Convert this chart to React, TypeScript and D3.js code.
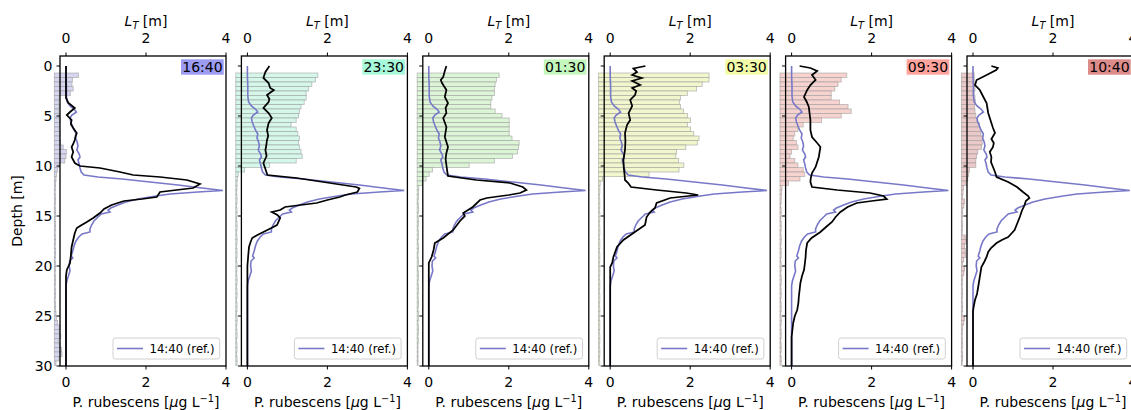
import React from 'react'
import * as d3 from 'd3'

const WIDTH = 1131
const HEIGHT = 410
const TOP = 56
const BOTTOM = 366
const FIRST_LEFT = 60
const PANEL_W = 166
const PANEL_STEP = 181.4
const BAR_BASE = -0.29
const BIN_H = 0.45
const REF_COLOR = '#7878c8'
const FONT = 14
const SMALL = 11.67

const times = ['16:40', '23:30', '01:30', '03:30', '09:30', '10:40']
const timeColors = ['#9c9cf2', '#a8f8da', '#c4f7bd', '#f2fca8', '#ffa39c', '#dd8c8c']
const barFills = ['#d6d6f0', '#d4f7ea', '#ddf5d7', '#f1f6cc', '#f7d3cf', '#ecc9c9']

const xTicks = [0, 2, 4]
const depthTicks = [0, 5, 10, 15, 20, 25, 30]

// top of each L_T depth bin [m]
const ltTops = [
  0.7, 1.15, 1.6, 2.05, 2.5, 2.95, 3.4, 3.85, 4.3, 4.75, 5.2, 5.65, 6.1, 6.55, 7.0, 7.45,
  7.9, 8.35, 8.8, 9.25, 9.7, 10.15, 10.6, 11.05, 11.5, 11.95, 12.4, 12.85, 13.3, 13.75,
  14.2, 14.65, 15.1, 15.55, 16.0, 16.45, 16.9, 17.35, 17.8, 18.25, 18.7, 19.15, 19.6,
  20.05, 20.5, 20.95, 21.4, 21.85, 22.3, 22.75, 23.2, 23.65, 24.1, 24.55, 25.0, 25.45,
  25.9, 26.35, 26.8, 27.25, 27.7, 28.15, 28.6, 29.05, 29.5,
]

// Thorpe scale L_T [m] per bin
const lt1640 = [
  0.6, 0.45, 0.44, 0.47, 0.4, 0.12, 0.1, 0.12, 0.1, 0.12, 0.14, 0.13, 0.12, 0.14, 0.13, 0.15,
  0.22, 0.3, 0.29, 0.26, 0.12, 0.08, 0.05, 0.04, 0.03, 0.03, 0.02, 0.03, 0.03, 0.02,
  0.03, 0.03, 0.02, 0.03, 0.03, 0.02, 0.03, 0.03, 0.02, 0.03, 0.03, 0.02, 0.03,
  0.03, 0.02, 0.03, 0.03, 0.02, 0.03, 0.03, 0.02, 0.03, 0.03, 0.04, 0.05, 0.08,
  0.14, 0.12, 0.16, 0.1, 0.14, 0.18, 0.19, 0.12, 0.04,
]
const lt2330 = [
  2.05, 1.99, 1.9, 1.82, 1.76, 1.76, 1.71, 1.63, 1.59, 1.57, 1.51, 1.38, 1.51, 1.55, 1.59, 1.57,
  1.59, 1.63, 1.66, 1.51, 0.84, 0.22, 0.06, 0.04, 0.03, 0.03, 0.02, 0.03, 0.03, 0.02,
  0.03, 0.03, 0.02, 0.03, 0.03, 0.02, 0.03, 0.03, 0.02, 0.03, 0.03, 0.02, 0.03,
  0.03, 0.02, 0.03, 0.03, 0.02, 0.03, 0.03, 0.02, 0.03, 0.03, 0.02, 0.03, 0.03,
  0.02, 0.03, 0.03, 0.02, 0.03, 0.03, 0.02, 0.03, 0.03,
]
const lt0130 = [
  2.05, 1.98, 1.95, 1.93, 1.93, 1.87, 1.84, 1.84, 1.95, 2.12, 2.3, 2.3, 2.3, 2.3, 2.37, 2.55,
  2.53, 2.51, 2.38, 1.93, 1.3, 0.38, 0.3, 0.22, 0.13, 0.04, 0.03, 0.03, 0.02, 0.03,
  0.03, 0.02, 0.03, 0.03, 0.02, 0.03, 0.03, 0.02, 0.03, 0.03, 0.02, 0.03, 0.03,
  0.02, 0.03, 0.03, 0.02, 0.03, 0.03, 0.02, 0.03, 0.03, 0.02, 0.03, 0.03, 0.02,
  0.03, 0.03, 0.02, 0.03, 0.02, 0.02, 0.02, 0.02, 0.02,
]
const lt0330 = [
  2.76, 2.76, 2.59, 2.45, 2.22, 2.05, 2.02, 2.05, 2.12, 2.22, 2.3, 2.22, 2.3, 2.38, 2.51, 2.47,
  2.18, 1.95, 1.93, 2.0, 2.13, 2.01, 1.26, 0.1, 0.04, 0.03, 0.03, 0.02, 0.03, 0.03,
  0.02, 0.03, 0.03, 0.02, 0.03, 0.03, 0.02, 0.03, 0.03, 0.02, 0.03, 0.03, 0.02,
  0.03, 0.03, 0.02, 0.03, 0.03, 0.02, 0.03, 0.03, 0.02, 0.03, 0.03, 0.02, 0.03,
  0.03, 0.02, 0.03, 0.03, 0.02, 0.03, 0.03, 0.02, 0.03,
]
const lt0930 = [
  1.67, 1.53, 1.45, 1.37, 1.28, 1.28, 1.49, 1.7, 1.78, 1.53, 1.04, 0.58, 0.45, 0.37, 0.33, 0.41,
  0.45, 0.29, 0.25, 0.37, 0.45, 0.58, 0.62, 0.5, 0.21, 0.05, 0.04, 0.03, 0.03, 0.02,
  0.03, 0.03, 0.02, 0.03, 0.03, 0.02, 0.03, 0.03, 0.02, 0.03, 0.03, 0.02, 0.03,
  0.03, 0.02, 0.03, 0.03, 0.02, 0.03, 0.03, 0.02, 0.03, 0.03, 0.02, 0.03, 0.03,
  0.02, 0.03, 0.03, 0.02, 0.03, 0.03, 0.02, 0.03, 0.03,
]
const lt1040 = [
  0.32, 0.32, 0.36, 0.34, 0.32, 0.34, 0.35, 0.33, 0.34, 0.36, 0.38, 0.45, 0.47, 0.49, 0.53, 0.52,
  0.5, 0.41, 0.38, 0.36, 0.36, 0.2, 0.18, 0.16, 0.12, 0.05, 0.04, 0.03, 0.08, 0.06,
  0.03, 0.03, 0.02, 0.03, 0.03, 0.02, 0.1, 0.12, 0.08, 0.1, 0.11, 0.06, 0.03,
  0.08, 0.06, 0.03, 0.03, 0.02, 0.03, 0.03, 0.02, 0.03, 0.03, 0.02, 0.08, 0.06,
  0.03, 0.03, 0.02, 0.03, 0.03, 0.02, 0.03, 0.03, 0.02,
]

// reference P. rubescens profile, 14:40 — [depth m, µg/L]
const ref1440: [number, number][] = [
  [0, 0], [1, 0], [2, 0.01], [3, 0.01], [3.6, 0.03], [4.0, 0.1], [4.3, 0.2], [4.6, 0.26],
  [4.9, 0.15], [5.2, 0.1], [5.6, 0.12], [6.0, 0.16], [6.4, 0.2], [6.8, 0.26], [7.2, 0.24],
  [7.6, 0.28], [8.0, 0.3], [8.4, 0.27], [8.8, 0.33], [9.1, 0.35], [9.4, 0.3], [9.8, 0.33],
  [10.2, 0.35], [10.6, 0.38], [10.9, 0.45], [11.1, 0.8], [11.3, 1.4], [11.6, 2.1], [11.9, 2.8],
  [12.2, 3.4], [12.45, 3.92], [12.6, 3.3], [12.8, 2.6], [13.0, 2.25], [13.3, 1.8], [13.6, 1.5],
  [13.9, 1.3], [14.2, 1.12], [14.4, 1.05], [14.6, 1.1], [14.8, 0.88], [15.1, 0.8], [15.5, 0.7],
  [15.9, 0.64], [16.3, 0.6], [16.6, 0.6], [16.8, 0.4], [17.1, 0.32], [17.5, 0.25], [18.0, 0.2],
  [18.5, 0.17], [19.0, 0.13], [19.2, 0.17], [19.5, 0.09], [20.0, 0.08], [20.5, 0.1], [21.0, 0.06],
  [21.5, 0.02], [22, 0], [30, 0],
]

const prof1640: [number, number][] = [
  [0, 0], [1, 0], [2, 0], [3.2, 0], [3.7, 0.06], [4.2, 0.22], [4.6, 0.1], [4.9, 0.02], [5.4, 0.14],
  [5.8, 0.12], [6.2, 0.18], [6.7, 0.27], [7.0, 0.24], [7.4, 0.22], [7.8, 0.18], [8.1, 0.14],
  [8.6, 0.18], [9.1, 0.14], [9.4, 0.18], [9.7, 0.22], [10.0, 0.35], [10.2, 0.85], [10.6, 1.35],
  [10.9, 1.68], [11.1, 2.35], [11.4, 3.02], [11.8, 3.35], [12.2, 3.18], [12.6, 2.35], [13.1, 2.27],
  [13.3, 1.9], [13.5, 1.45], [13.9, 1.14], [14.3, 0.95], [14.7, 0.85], [15.2, 0.68], [15.6, 0.52],
  [16.0, 0.35], [16.2, 0.27], [16.7, 0.22], [17.4, 0.18], [18.1, 0.14], [19.0, 0.12], [19.7, 0.1],
  [20.4, 0.02], [21, 0], [30, 0],
]
const prof2330: [number, number][] = [
  [0, 0.55], [0.3, 0.5], [0.6, 0.45], [1.2, 0.4], [1.7, 0.53], [2.2, 0.57], [2.4, 0.66], [2.9, 0.49],
  [3.3, 0.55], [3.6, 0.53], [4.2, 0.4], [4.7, 0.53], [5.2, 0.61], [5.7, 0.53], [6.4, 0.49],
  [7.0, 0.52], [7.4, 0.49], [8.0, 0.47], [8.4, 0.45], [9.0, 0.48], [9.7, 0.4], [10.3, 0.45],
  [10.9, 0.5], [11.2, 1.23], [11.7, 2.06], [12.1, 2.72], [12.25, 2.8], [12.6, 2.75], [12.9, 2.45],
  [13.1, 2.31], [13.4, 2.0], [13.7, 1.73], [14.1, 0.94], [14.4, 0.82], [14.6, 0.61], [14.9, 0.75],
  [15.2, 0.82], [15.9, 0.74], [16.3, 0.55], [16.6, 0.4], [16.9, 0.25], [17.2, 0.12], [17.6, 0.08],
  [18.1, 0.04], [19, 0.02], [20, 0], [30, 0],
]
const prof0130: [number, number][] = [
  [0, 0.44], [0.5, 0.4], [1.1, 0.36], [1.4, 0.3], [1.7, 0.33], [2.4, 0.44], [3.1, 0.4], [3.7, 0.48],
  [4.2, 0.42], [4.7, 0.44], [5.2, 0.36], [6.1, 0.44], [7.1, 0.4], [8.1, 0.48], [8.7, 0.44],
  [9.3, 0.42], [9.9, 0.44], [10.5, 0.46], [11.0, 0.48], [11.4, 1.19], [11.7, 2.03], [12.1, 2.35],
  [12.4, 2.44], [12.7, 2.28], [12.9, 2.0], [13.2, 1.45], [13.4, 1.28], [14.1, 1.1], [14.7, 0.86],
  [15.0, 0.9], [15.5, 0.78], [16.4, 0.61], [17.2, 0.36], [17.7, 0.15], [18.4, 0.12], [19.1, 0.07],
  [19.7, 0], [30, 0],
]
const prof0330: [number, number][] = [
  [0, 0.88], [0.25, 0.58], [0.6, 0.67], [0.9, 0.55], [1.2, 0.79], [1.5, 0.55], [1.9, 0.75],
  [2.2, 0.55], [2.5, 0.65], [2.9, 0.62], [3.4, 0.5], [4.0, 0.55], [4.7, 0.46], [5.4, 0.5],
  [5.9, 0.42], [6.7, 0.37], [7.5, 0.38], [8.4, 0.37], [9.4, 0.33], [10.2, 0.34], [10.9, 0.36],
  [11.4, 0.37], [11.7, 0.45], [12.1, 0.52], [12.4, 1.16], [12.7, 1.9], [12.9, 2.2], [13.2, 1.5],
  [13.7, 1.16], [14.2, 1.12], [14.6, 1.0], [15.1, 0.91], [15.9, 0.87], [16.7, 0.58], [17.4, 0.33],
  [18.1, 0.17], [19.1, 0.08], [19.7, 0.05], [20.1, 0], [30, 0],
]
const prof0930: [number, number][] = [
  [0, 0.2], [0.2, 0.47], [0.5, 0.64], [0.9, 0.51], [1.4, 0.6], [1.9, 0.47], [2.4, 0.39], [3.1, 0.31],
  [3.6, 0.38], [4.1, 0.43], [5.4, 0.47], [6.4, 0.47], [7.1, 0.51], [7.7, 0.64], [8.1, 0.72],
  [8.6, 0.7], [9.1, 0.68], [10.1, 0.6], [10.7, 0.51], [11.2, 0.48], [11.6, 0.47], [12.1, 0.51],
  [12.4, 1.14], [12.7, 1.96], [13.0, 2.3], [13.3, 2.38], [13.5, 2.0], [13.7, 1.63], [14.1, 1.4],
  [14.6, 1.22], [15.1, 1.1], [15.6, 1.01], [16.1, 0.86], [16.6, 0.72], [17.2, 0.5], [17.7, 0.39],
  [18.4, 0.36], [19.1, 0.35], [19.8, 0.33], [20.4, 0.31], [21.0, 0.26], [21.7, 0.22], [22.4, 0.2],
  [23.1, 0.18], [23.7, 0.17], [24.4, 0.14], [25.0, 0.08], [25.7, 0.04], [26.4, 0.02], [27.1, 0],
  [30, 0],
]
const prof1040: [number, number][] = [
  [0, 0.46], [0.2, 0.62], [0.4, 0.58], [0.9, 0.34], [1.4, 0.09], [1.9, 0.05], [2.4, 0.17],
  [3.1, 0.26], [3.7, 0.34], [4.7, 0.38], [5.7, 0.46], [6.2, 0.5], [6.7, 0.55], [7.3, 0.46],
  [7.7, 0.52], [8.1, 0.5], [8.6, 0.42], [9.1, 0.46], [9.6, 0.45], [10.1, 0.5], [10.6, 0.55],
  [11.1, 0.59], [11.6, 0.88], [12.1, 1.1], [12.6, 1.25], [13.0, 1.38], [13.2, 1.41], [13.5, 1.32],
  [13.9, 1.29], [14.5, 1.22], [15.1, 1.17], [15.8, 1.1], [16.4, 1.04], [16.8, 0.95], [17.1, 0.88],
  [17.4, 0.72], [17.7, 0.59], [18.2, 0.45], [18.6, 0.38], [19.1, 0.34], [19.6, 0.28], [20.1, 0.21],
  [21.1, 0.17], [22.1, 0.13], [22.8, 0.1], [23.4, 0.05], [24.0, 0.02], [24.5, 0], [30, 0],
]

const profiles = [prof1640, prof2330, prof0130, prof0330, prof0930, prof1040]
const ltSeries = [lt1640, lt2330, lt0130, lt0330, lt0930, lt1040]

const yScale = d3.scaleLinear().domain([-1, 30]).range([TOP, BOTTOM])

const Panel = ({ idx }: { idx: number }) => {
  const left = FIRST_LEFT + idx * PANEL_STEP
  const right = left + PANEL_W
  const x = d3.scaleLinear().domain([-0.15, 4]).range([left, right])
  const line = d3
    .line<[number, number]>()
    .x(d => x(d[1]))
    .y(d => yScale(d[0]))
  const lt = ltSeries[idx]

  return (
    <g>
      {/* L_T bars */}
      <g>
        {lt.map((v, j) => {
          const y0 = yScale(ltTops[j])
          const y1 = yScale(ltTops[j] + BIN_H)
          return (
            <rect
              key={j}
              x={x(BAR_BASE)}
              y={y0}
              width={Math.max(0.5, x(BAR_BASE + v) - x(BAR_BASE))}
              height={y1 - y0}
              fill={barFills[idx]}
              stroke="#9a9a9a"
              strokeOpacity={0.6}
              strokeWidth={0.9}
            />
          )
        })}
      </g>

      {/* profiles */}
      <path d={line(ref1440) ?? ''} fill="none" stroke={REF_COLOR} strokeWidth={1.6} />
      <path d={line(profiles[idx]) ?? ''} fill="none" stroke="#000" strokeWidth={1.75} />

      {/* time label */}
      <rect x={right - 45} y={TOP + 3.3} width={42.7} height={15.4} fill={timeColors[idx]} />
      <text x={right - 23.6} y={TOP + 16.2} fontSize={FONT} textAnchor="middle">
        {times[idx]}
      </text>

      {/* legend */}
      <g transform={`translate(${right - 113},${BOTTOM - 28})`}>
        <rect x={0} y={0} width={106.7} height={21} rx={2.5} fill="#fff" fillOpacity={0.8} stroke="#d0d0d0" />
        <line x1={4} x2={30} y1={10.5} y2={10.5} stroke={REF_COLOR} strokeWidth={1.6} />
        <text x={36.5} y={14.5} fontSize={SMALL}>
          14:40 (ref.)
        </text>
      </g>

      {/* spines */}
      <rect x={left} y={TOP} width={PANEL_W} height={BOTTOM - TOP} fill="none" stroke="#000" strokeWidth={1.3} />

      {/* y ticks */}
      {depthTicks.map(t => (
        <g key={t}>
          <line x1={left} x2={left - 3.5} y1={yScale(t)} y2={yScale(t)} stroke="#000" strokeWidth={1} />
          {idx === 0 && (
            <text x={left - 7.5} y={yScale(t)} dy="0.36em" fontSize={FONT} textAnchor="end">
              {t}
            </text>
          )}
        </g>
      ))}

      {/* top axis: L_T */}
      {xTicks.map(t => (
        <g key={'t' + t}>
          <line x1={x(t)} x2={x(t)} y1={TOP} y2={TOP - 3.5} stroke="#000" strokeWidth={1} />
          <text x={x(t)} y={43.3} fontSize={FONT} textAnchor="middle">
            {t}
          </text>
        </g>
      ))}
      <text x={x(2)} y={26} fontSize={FONT} textAnchor="middle">
        <tspan fontStyle="italic">L</tspan>
        <tspan fontStyle="italic" fontSize={FONT * 0.7} dy={3}>
          T
        </tspan>
        <tspan dy={-3}> [m]</tspan>
      </text>

      {/* bottom axis: concentration */}
      {xTicks.map(t => (
        <g key={'b' + t}>
          <line x1={x(t)} x2={x(t)} y1={BOTTOM} y2={BOTTOM + 3.5} stroke="#000" strokeWidth={1} />
          <text x={x(t)} y={386.7} fontSize={FONT} textAnchor="middle">
            {t}
          </text>
        </g>
      ))}
      <text x={x(2)} y={407} fontSize={FONT} textAnchor="middle">
        P. rubescens [<tspan fontStyle="italic">μ</tspan>g L
        <tspan fontSize={FONT * 0.7} dy={-5.5}>
          −1
        </tspan>
        <tspan dy={5.5}>]</tspan>
      </text>
    </g>
  )
}

const App = () => {
  return (
    <svg
      width={WIDTH}
      height={HEIGHT}
      style={{ position: 'absolute', left: 0, top: 0, background: '#fff' }}
      fontFamily="DejaVu Sans, sans-serif"
    >
      {times.map((_, i) => (
        <Panel key={i} idx={i} />
      ))}
      <text transform={`translate(22,${(TOP + BOTTOM) / 2}) rotate(-90)`} fontSize={FONT} textAnchor="middle">
        Depth [m]
      </text>
    </svg>
  )
}

export default App
